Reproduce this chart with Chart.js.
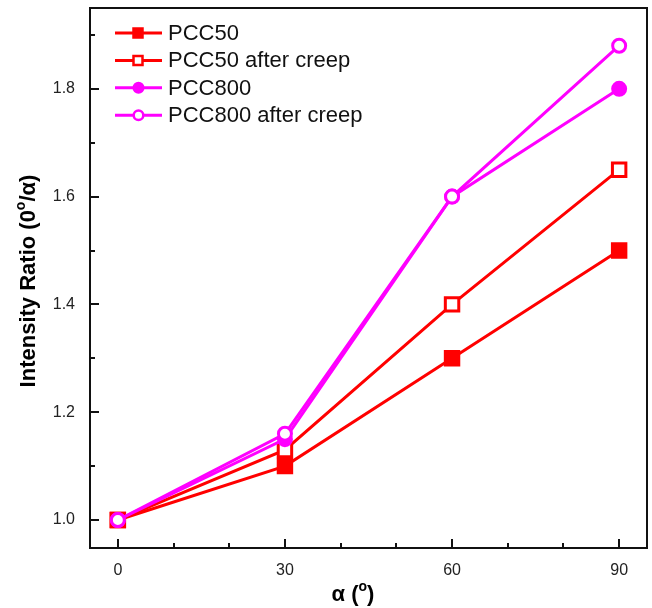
<!DOCTYPE html>
<html>
<head>
<meta charset="utf-8">
<script src="https://cdn.jsdelivr.net/npm/chart.js@4/dist/chart.umd.min.js"></script>
<style>
html,body{margin:0;padding:0;background:#fff;}
#wrap{width:652px;height:608px;position:relative;}
</style>
</head>
<body>
<div id="wrap"><canvas id="c" width="652" height="608"></canvas></div>
<script>
// ---- data ----
const angles = [0, 30, 60, 90];
const seriesNames = ["PCC50", "PCC50 after creep", "PCC800", "PCC800 after creep"];
const pcc50 = [1.0, 1.1, 1.3, 1.5];
const pcc50Creep = [1.0, 1.13, 1.4, 1.65];
const pcc800 = [1.0, 1.15, 1.6, 1.8];
const pcc800Creep = [1.0, 1.16, 1.6, 1.88];
const xTicks = [0, 30, 60, 90];
const xMinorTicks = [10, 20, 40, 50, 70, 80];
const yTicks = [1.0, 1.2, 1.4, 1.6, 1.8];
const yMinorTicks = [1.1, 1.3, 1.5, 1.7, 1.9];

const RED = '#ff0000', MAG = '#ff00ff';
const styles = [
  {color: RED, shape: 'rect', fill: RED, r: 9.5},
  {color: RED, shape: 'rect', fill: '#ffffff', r: 9.5},
  {color: MAG, shape: 'circle', fill: MAG, r: 6.5},
  {color: MAG, shape: 'circle', fill: '#ffffff', r: 6.5}
];
const values = [pcc50, pcc50Creep, pcc800, pcc800Creep];

const datasets = values.map((vals, i) => ({
  label: seriesNames[i],
  data: angles.map((a, j) => ({x: a, y: vals[j]})),
  borderColor: styles[i].color,
  backgroundColor: styles[i].fill,
  pointBorderColor: styles[i].color,
  pointBackgroundColor: styles[i].fill,
  pointStyle: styles[i].shape,
  pointRadius: styles[i].r,
  pointHoverRadius: styles[i].r,
  pointBorderWidth: 3,
  borderWidth: 3,
  tension: 0,
  clip: false,
  order: 3 - i
}));

function drawSup(ctx, parts, x, y, align) {
  const base = 'bold 22px "Liberation Sans", Arial, sans-serif';
  const sup = 'bold 14px "Liberation Sans", Arial, sans-serif';
  let total = 0;
  parts.forEach(p => { ctx.font = p.sup ? sup : base; total += ctx.measureText(p.t).width; });
  let cx = align === 'center' ? x - total / 2 : x;
  ctx.textAlign = 'left';
  ctx.textBaseline = 'alphabetic';
  parts.forEach(p => {
    ctx.font = p.sup ? sup : base;
    ctx.fillText(p.t, cx, p.sup ? y - 10 : y);
    cx += ctx.measureText(p.t).width;
  });
}

const decor = {
  id: 'decor',
  afterDraw(chart) {
    const ctx = chart.ctx;
    const a = chart.chartArea;
    const xs = chart.scales.x, ys = chart.scales.y;
    ctx.save();
    ctx.strokeStyle = '#111';
    ctx.lineWidth = 2;
    ctx.strokeRect(a.left, a.top, a.right - a.left, a.bottom - a.top);
    ctx.beginPath();
    xTicks.forEach(v => { const px = Math.round(xs.getPixelForValue(v)); ctx.moveTo(px, a.bottom); ctx.lineTo(px, a.bottom - 9); });
    xMinorTicks.forEach(v => { const px = Math.round(xs.getPixelForValue(v)); ctx.moveTo(px, a.bottom); ctx.lineTo(px, a.bottom - 5); });
    yTicks.forEach(v => { const py = Math.round(ys.getPixelForValue(v)); ctx.moveTo(a.left, py); ctx.lineTo(a.left + 9, py); });
    yMinorTicks.forEach(v => { const py = Math.round(ys.getPixelForValue(v)); ctx.moveTo(a.left, py); ctx.lineTo(a.left + 5, py); });
    ctx.stroke();

    // axis titles
    ctx.fillStyle = '#000';
    drawSup(ctx, [{t: 'α ('}, {t: 'o', sup: true}, {t: ')'}], 353, 601, 'center');
    ctx.save();
    ctx.translate(35, 281);
    ctx.rotate(-Math.PI / 2);
    drawSup(ctx, [{t: 'Intensity Ratio (0'}, {t: 'o', sup: true}, {t: '/α)'}], 0, 0, 'center');
    ctx.restore();

    // legend
    chart.data.datasets.forEach((ds, i) => {
      const y = 33 + i * 27.4;
      const st = styles[i];
      ctx.strokeStyle = st.color;
      ctx.lineWidth = 3;
      ctx.beginPath();
      ctx.moveTo(115, y); ctx.lineTo(162, y);
      ctx.stroke();
      ctx.fillStyle = st.fill;
      ctx.lineWidth = 2.5;
      ctx.beginPath();
      if (st.shape === 'rect') {
        ctx.rect(138 - 4.5, y - 4.5, 9, 9);
      } else {
        ctx.arc(138.5, y, 4.8, 0, Math.PI * 2);
      }
      ctx.fill();
      ctx.stroke();
      ctx.fillStyle = '#111';
      ctx.font = '22px "Liberation Sans", Arial, sans-serif';
      ctx.textAlign = 'left';
      ctx.textBaseline = 'middle';
      ctx.fillText(ds.label, 168, y + 1);
    });
    ctx.restore();
  }
};

function zeroPad(s) { s.paddingLeft = 0; s.paddingRight = 0; s.paddingTop = 0; s.paddingBottom = 0; }

new Chart(document.getElementById('c'), {
  type: 'line',
  data: {datasets},
  options: {
    responsive: false,
    animation: false,
    events: [],
    layout: {autoPadding: false, padding: {top: 8, right: 5, left: 0, bottom: 0}},
    plugins: {legend: {display: false}, tooltip: {enabled: false}},
    scales: {
      x: {
        type: 'linear', min: -5, max: 95,
        afterBuildTicks: s => { s.ticks = xTicks.map(v => ({value: v})); },
        afterFit: s => { s.height = 60; zeroPad(s); },
        grid: {display: false, drawTicks: false},
        border: {display: false},
        ticks: {padding: 13, color: '#222', font: {family: '"Liberation Sans", Arial, sans-serif', size: 16}, maxRotation: 0}
      },
      y: {
        type: 'linear', min: 0.948, max: 1.95,
        afterBuildTicks: s => { s.ticks = yTicks.map(v => ({value: v})); },
        afterFit: s => { s.width = 90; zeroPad(s); },
        grid: {display: false, drawTicks: false},
        border: {display: false},
        ticks: {padding: 15, color: '#222', font: {family: '"Liberation Sans", Arial, sans-serif', size: 16}, callback: v => Number(v).toFixed(1)}
      }
    }
  },
  plugins: [decor]
});
</script>
</body>
</html>
